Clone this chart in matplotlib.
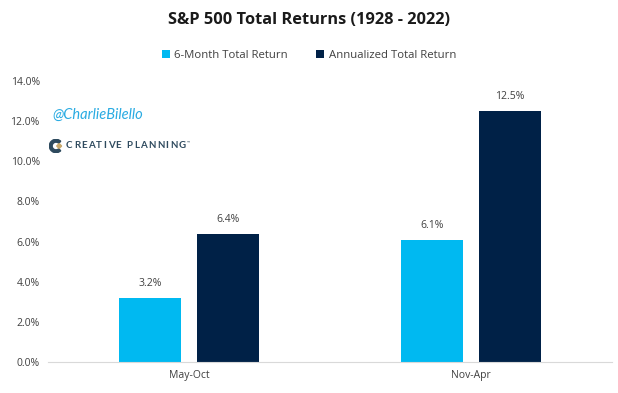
import numpy as np
import matplotlib.pyplot as plt
from matplotlib.patches import Wedge, Polygon

categories = ["May-Oct", "Nov-Apr"]
six_month = [3.2, 6.1]
annualized = [6.4, 12.5]
series_names = ["6-Month Total Return", "Annualized Total Return"]
yticks = [0, 2, 4, 6, 8, 10, 12, 14]

light = "#00B9F1"
dark = "#002147"

plt.rcParams['font.family'] = ['Open Sans', 'DejaVu Sans']

fig = plt.figure(figsize=(6.18, 3.93), dpi=100)
ax = fig.add_axes([48 / 618, 31 / 393, 564 / 618, 281 / 393])

x = np.arange(len(categories))
w = 0.22
gap = 0.055
b1 = ax.bar(x - w / 2 - gap / 2, six_month, w, color=light, label=series_names[0])
b2 = ax.bar(x + w / 2 + gap / 2, annualized, w, color=dark, label=series_names[1])

for bars, vals in [(b1, six_month), (b2, annualized)]:
    for b, v in zip(bars, vals):
        ax.text(b.get_x() + b.get_width() / 2, v + 0.45, f"{v:.1f}%",
                ha='center', va='bottom', fontsize=7.5, color="#404040")

ax.set_xlim(-0.5, 1.5)
ax.set_ylim(0, 14)
ax.set_yticks(yticks)
ax.set_yticklabels([f"{t:.1f}%" for t in yticks], fontsize=7.5, color="#404040")
ax.set_xticks(x)
ax.set_xticklabels(categories, fontsize=7.5, color="#404040")
ax.tick_params(length=0, pad=6)
for s in ['top', 'right', 'left']:
    ax.spines[s].set_visible(False)
ax.spines['bottom'].set_color("#d9d9d9")

fig.text(0.5, 1 - 20 / 393, "S&P 500 Total Returns (1928 - 2022)", ha='center', va='center',
         fontsize=11.8, fontweight='bold', color="#1a1a1a")

handles = [b1, b2]
fig.legend(handles, series_names, loc='center', bbox_to_anchor=(0.5, 1 - 55 / 393), ncol=2,
           frameon=False, fontsize=8.2, handlelength=0.7, handleheight=0.7,
           columnspacing=2.5, handletextpad=0.4, labelcolor="#404040")

# watermark and logo
fig.text(52 / 618, 1 - 115 / 393, "@CharlieBilello", ha='left', va='center',
         fontsize=10.5, color="#29ABE2", style='italic', family=['Lato', 'DejaVu Sans'])

renderer = fig.canvas.get_renderer()
logo_text = "CREATIVE PLANNING"
lx = 66
tracking = 1.3
for ch in logo_text:
    t = fig.text(lx / 618, 1 - 146 / 393, ch, ha='left', va='center',
                 fontsize=7, fontweight='bold', color="#2E4A5E", family=['Lato', 'DejaVu Sans'])
    if ch == " ":
        lx += 4.0
    else:
        lx += t.get_window_extent(renderer).width + tracking
fig.text((lx + 0.5) / 618, 1 - 143 / 393, "™", ha='left', va='center', fontsize=3, color="#2E4A5E")

logo = fig.add_axes([49 / 618, 1 - 153 / 393, 14 / 618, 14 / 393])
logo.set_xlim(-1, 1)
logo.set_ylim(-1, 1)
logo.set_aspect('equal')
logo.axis('off')
logo.add_patch(Wedge((0, 0), 0.95, 45, 315, width=0.4, color="#2E4A5E"))
logo.add_patch(Polygon([[0.1, 0], [0.45, 0.35], [0.8, 0], [0.45, -0.35]], color="#C8A86B"))

fig.savefig("out.png", dpi=100, facecolor='white')
